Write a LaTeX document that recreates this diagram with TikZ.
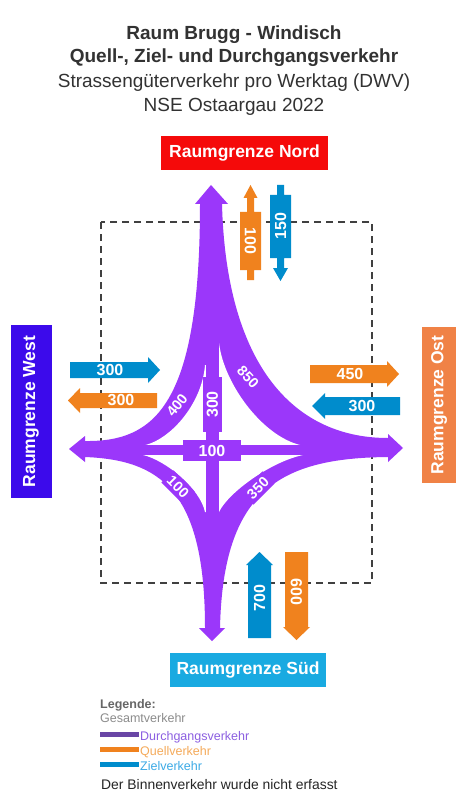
\documentclass[tikz,border=0pt]{standalone}
\usepackage{fontspec}
\setmainfont{Liberation Sans}
\usetikzlibrary{calc,positioning}

\definecolor{violett}{RGB}{155,55,250}
\definecolor{ziel}{RGB}{0,140,204}
\definecolor{quell}{RGB}{240,130,30}
\definecolor{nordrot}{RGB}{245,10,10}
\definecolor{westblau}{RGB}{60,10,235}
\definecolor{ostorange}{RGB}{240,130,70}
\definecolor{suedblau}{RGB}{25,170,225}
\definecolor{titelgrau}{RGB}{50,50,50}
\definecolor{legviolett}{RGB}{105,70,165}
\definecolor{legviotext}{RGB}{140,95,225}
\definecolor{legquelltext}{RGB}{245,170,90}
\definecolor{legzieltext}{RGB}{60,170,230}

\begin{document}
\begin{tikzpicture}
	[x=1pt,y=-1pt,
	grenze/.style={fill=#1,text=white,inner sep=0pt,minimum height=34pt,font=\fontsize{17.5}{20}\selectfont\bfseries},
	zahl/.style={text=white,inner sep=0pt,font=\fontsize{16}{18}\selectfont\bfseries},
	bandzahl/.style={text=white,inner sep=0pt,font=\fontsize{14.5}{17}\selectfont\bfseries},
	bandbox/.style={bandzahl,fill=violett,minimum width=30pt,minimum height=17pt},
	titel/.style={text=titelgrau,anchor=base,inner sep=0pt,font=\fontsize{19}{22}\selectfont},
	legtext/.style={anchor=base west,inner sep=0pt,font=\fontsize{12.5}{14}\selectfont}]
	\useasboundingbox[fill=white] (0,0) rectangle (461,794);
	
	% Titel
	\node[titel,font=\fontsize{19}{22}\selectfont\bfseries] (t1) at (234,40) {Raum Brugg - Windisch};
	\node[titel,font=\fontsize{19}{22}\selectfont\bfseries] (t2) at (234,63) {Quell-, Ziel- und Durchgangsverkehr};
	\node[titel] (t3) at (234,88) {Strassengüterverkehr pro Werktag (DWV)};
	\node[titel] (t4) at (234,112) {NSE Ostaargau 2022};
	
	% Raumgrenzen
	\draw[line width=1.5pt,black!75,dash pattern=on 7pt off 5pt] (101,222) rectangle (372,583);
	\node[grenze=nordrot,minimum width=167pt] (nord) at (244.5,153) {Raumgrenze Nord};
	\node[grenze=suedblau,minimum width=156pt] (sued) at (248,670) {Raumgrenze Süd};
	\node[grenze=westblau,minimum width=173pt,minimum height=41pt,rotate=90] (west) at (31,411.5) {Raumgrenze West};
	\node[grenze=ostorange,minimum width=156pt,rotate=90] (ost) at (439,405) {Raumgrenze Ost};
	
	% Gesamtverkehr
	\fill[violett] (211,185) -- (228,204) -- (222,204)
		.. controls (226,360) and (290,438) .. (388,438)
		-- (388,434) -- (403,448) -- (388,462) -- (388,457)
		.. controls (280,458) and (223,490) .. (220,628)
		-- (225,628) -- (212,641) -- (199,628) -- (205,628)
		.. controls (205,490) and (160,460) .. (85,457)
		-- (85,462) -- (69,449) -- (85,436) -- (85,441)
		.. controls (155,442) and (200,405) .. (200,204)
		-- (195,204) -- cycle;
	\fill[white] (205,365) .. controls (202,405) and (168,443) .. (140,446) -- (212,446) -- (212,365) -- cycle;
	\fill[white] (219,343) .. controls (224,385) and (265,440) .. (305,446) -- (212,446) -- (212,343) -- cycle;
	\fill[white] (143,455) .. controls (165,460) and (200,488) .. (205,512) -- (212,512) -- (212,454) -- cycle;
	\fill[white] (303,455) .. controls (270,462) and (228,493) .. (219,512) -- (212,512) -- (212,454) -- cycle;
	\coordinate (oben) at (212,340);
	\coordinate (unten) at (212,530);
	\coordinate (links) at (130,450);
	\coordinate (rechts) at (320,450);
	\draw[violett,line width=13pt] (oben) -- (unten);
	\draw[violett,line width=10pt] (links) -- (rechts);
	\node[fill=violett,minimum width=19pt,minimum height=55pt,inner sep=0pt] (d300) at (212.5,404.5) {};
	\node[zahl,rotate=90] at (d300) {300};
	\node[fill=violett,zahl,minimum width=58pt,minimum height=21pt] (d100) at (212,450.5) {100};
	\node[bandzahl,rotate=51] (b400) at (177,405) {400};
	\node[bandzahl,rotate=-47] (b850) at (248,377) {850};
	\node[bandbox,rotate=-45] (b100) at (178,487) {100};
	\node[bandbox,rotate=45] (b350) at (258,488) {350};
	
	% Quell- und Zielverkehr
	\fill[quell] (247,280) -- (247,270) -- (240,270) -- (240,212) -- (247,212) -- (247,198) -- (243.5,198)
		-- (250.5,185) -- (257.5,198) -- (254,198) -- (254,212) -- (261,212) -- (261,270) -- (254,270) -- (254,280) -- cycle;
	\fill[ziel] (277,185) -- (284,185) -- (284,195) -- (291,195) -- (291,258) -- (284,258) -- (284,268) -- (288,268)
		-- (280.5,281) -- (273,268) -- (277,268) -- (277,258) -- (270,258) -- (270,195) -- (277,195) -- cycle;
	\node[zahl,rotate=-90] (n100) at (250.5,241) {100};
	\node[zahl,rotate=90] (n150) at (280.5,226) {150};
	
	\fill[ziel] (70,362) -- (148,362) -- (148,357) -- (160,370) -- (148,383) -- (148,378) -- (70,378) -- cycle;
	\fill[quell] (157,393) -- (80,393) -- (80,388) -- (68,400.5) -- (80,413) -- (80,408) -- (157,408) -- cycle;
	\node[zahl] (w300a) at (110,370) {300};
	\node[zahl] (w300b) at (121,400.5) {300};
	
	\fill[quell] (310,365) -- (387,365) -- (387,361) -- (399,374) -- (387,387) -- (387,383) -- (310,383) -- cycle;
	\fill[ziel] (400,397) -- (325,397) -- (325,393) -- (312,406) -- (325,419) -- (325,415) -- (400,415) -- cycle;
	\node[zahl] (o450) at (350,374) {450};
	\node[zahl] (o300) at (362,406) {300};
	
	\fill[ziel] (248,638) -- (248,565) -- (246,565) -- (259.5,552) -- (273,565) -- (271,565) -- (271,638) -- cycle;
	\fill[quell] (285,552) -- (308,552) -- (308,627) -- (310,627) -- (296.5,640) -- (283,627) -- (285,627) -- cycle;
	\node[zahl,rotate=90] (s700) at (259.5,598) {700};
	\node[zahl,rotate=-90] (s600) at (296.5,592) {600};
	
	% Legende
	\node[legtext,text=black!60,font=\fontsize{12.5}{14}\selectfont\bfseries] (legende) at (100,708) {Legende:};
	\node[legtext,text=black!45] (gesamt) at (100,722) {Gesamtverkehr};
	\foreach \name/\balken/\farbe/\y/\txt in {durch/legviolett/legviotext/740/Durchgangsverkehr,quelle/quell/legquelltext/755/Quellverkehr,ziel/ziel/legzieltext/770/Zielverkehr}
	{
		\fill[\balken] (100,\y-8) rectangle (139,\y-3);
		\node[legtext,text=\farbe] (\name) at (140,\y) {\txt};
	};
	\node[legtext,text=black!85,font=\fontsize{13.9}{16}\selectfont] (binnen) at (101,789) {Der Binnenverkehr wurde nicht erfasst};
\end{tikzpicture}
\end{document}
